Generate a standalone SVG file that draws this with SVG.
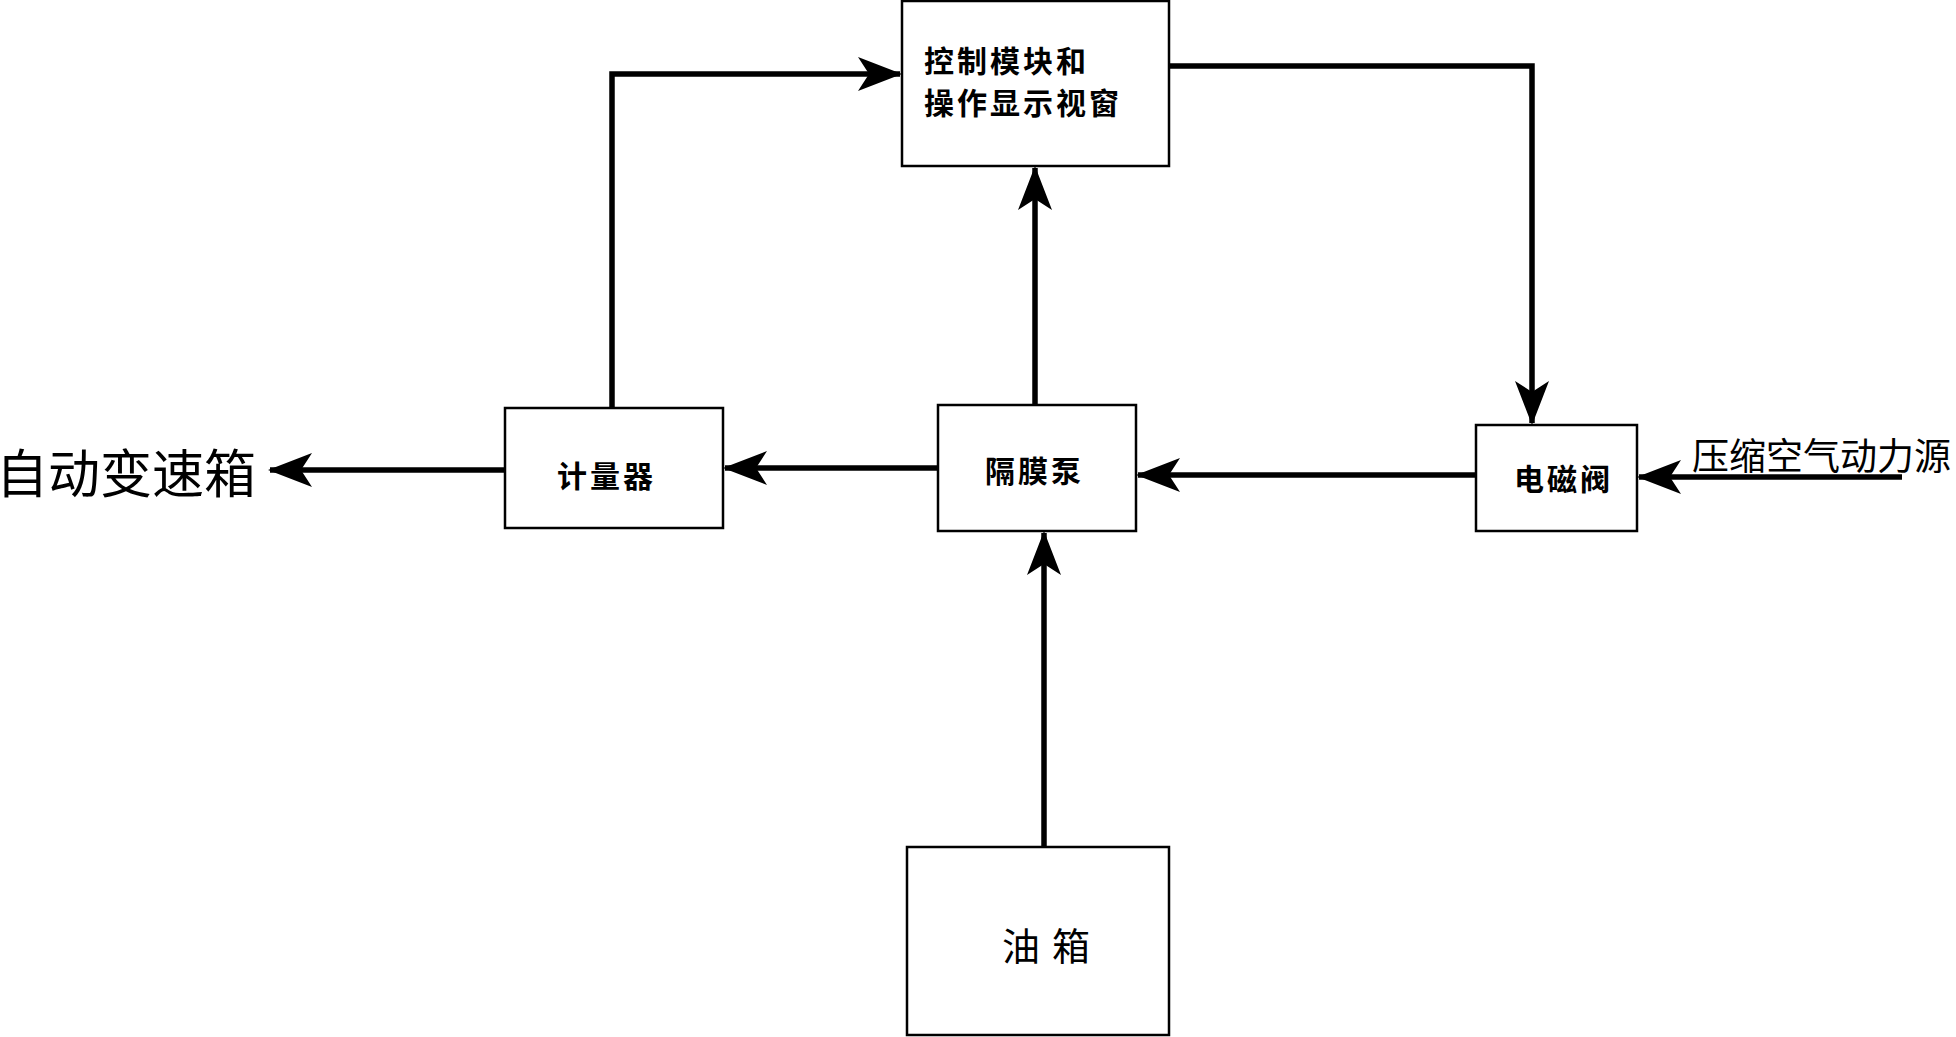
<svg xmlns="http://www.w3.org/2000/svg" width="1956" height="1037" viewBox="0 0 1956 1037">
<style>
.box{fill:#fff;stroke:#000;stroke-width:2.5}
.lbl{font-family:"Noto Sans CJK SC","Liberation Sans",sans-serif;font-weight:bold;font-size:30px;letter-spacing:3px;fill:#000}
.big{font-family:"Noto Sans CJK SC","Liberation Sans",sans-serif;font-size:52px;fill:#000}
.c{fill:none;stroke:#000;stroke-width:5.5}
</style>
<defs>
<marker id="ah" viewBox="0 0 44 34" refX="42" refY="17" markerWidth="44" markerHeight="34" markerUnits="userSpaceOnUse" orient="auto">
<path d="M0,0 L44,17 L0,34 L11,17 Z" fill="#000"/>
</marker>
</defs>
<g id="connectors">
<polyline class="c" points="612,408 612,74 900,74" marker-end="url(#ah)"/>
<line class="c" x1="1035" y1="405" x2="1035" y2="168" marker-end="url(#ah)"/>
<polyline class="c" points="1169,66 1532,66 1532,423" marker-end="url(#ah)"/>
<line class="c" x1="1476" y1="475" x2="1138" y2="475" marker-end="url(#ah)"/>
<line class="c" x1="1902" y1="477" x2="1639" y2="477" marker-end="url(#ah)"/>
<line class="c" x1="938" y1="468" x2="725" y2="468" marker-end="url(#ah)"/>
<line class="c" x1="505" y1="470" x2="270" y2="470" marker-end="url(#ah)"/>
<line class="c" x1="1044" y1="847" x2="1044" y2="533" marker-end="url(#ah)"/>
</g>
<g id="control"><rect class="box" x="902" y="1" width="267" height="165"/>
<text class="lbl" x="924" y="72">控制模块和</text><text class="lbl" x="924" y="114">操作显示视窗</text></g>
<g id="meter"><rect class="box" x="505" y="408" width="218" height="120"/><text class="lbl" x="557" y="487">计量器</text></g>
<g id="pump"><rect class="box" x="938" y="405" width="198" height="126"/><text class="lbl" x="985" y="482">隔膜泵</text></g>
<g id="valve"><rect class="box" x="1476" y="425" width="161" height="106"/><text class="lbl" x="1514" y="490">电磁阀</text></g>
<g id="tank"><rect class="box" x="907" y="847" width="262" height="188"/><text class="lbl" x="1002" y="960" style="font-size:38px;font-weight:normal;letter-spacing:12px">油箱</text></g>
<g id="gearbox"><text class="big" x="-4" y="493">自动变速箱</text></g>
<g id="air"><text class="big" x="1692" y="470" style="font-size:37px">压缩空气动力源</text></g>
</svg>
